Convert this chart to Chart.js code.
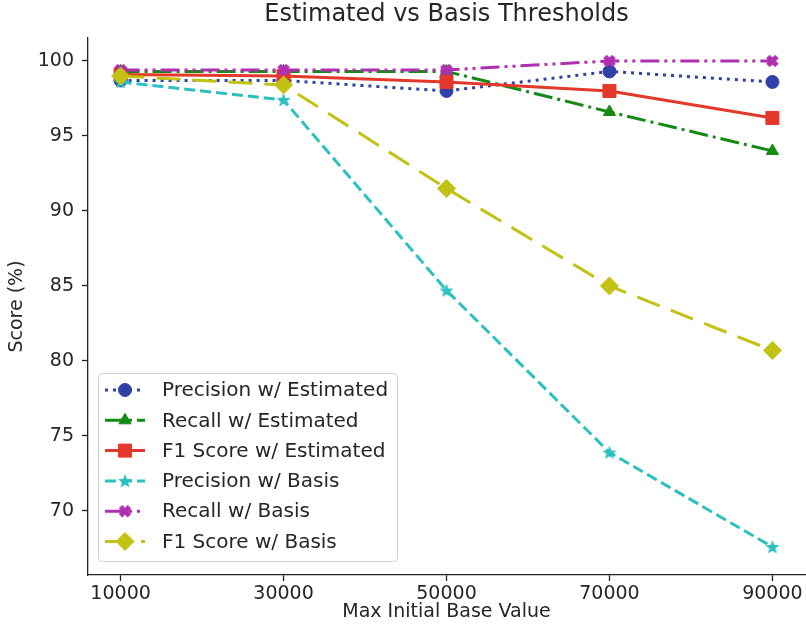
<!DOCTYPE html>
<html>
<head>
<meta charset="utf-8">
<script src="https://cdn.jsdelivr.net/npm/chart.js@4"></script>
<style>
  html, body { margin: 0; padding: 0; background: #fff; }
  #wrap { width: 806px; height: 625px; }
</style>
</head>
<body>
<div id="wrap"><canvas id="scores" width="806" height="625"></canvas></div>
<script>
// data
const xValues = [10000, 30000, 50000, 70000, 90000];
const yTicks = [70, 75, 80, 85, 90, 95, 100];

const precisionEst = [98.7, 98.7, 98.0, 99.3, 98.6];
const recallEst = [99.3, 99.3, 99.3, 96.6, 94.0];
const f1Est = [99.1, 99.0, 98.6, 98.0, 96.2];
const precisionBasis = [98.6, 97.4, 84.7, 73.9, 67.6];
const recallBasis = [99.4, 99.4, 99.4, 100.0, 100.0];
const f1Basis = [99.0, 98.4, 91.5, 85.0, 80.7];

const FONT = "'DejaVu Sans', sans-serif";
const TXT = '#262626';

// filled markers that chart.js does not have
function markerCanvas(draw, size) {
  const c = document.createElement('canvas');
  c.width = size; c.height = size;
  draw(c.getContext('2d'), size / 2);
  return c;
}
function starMarker(color) {
  return markerCanvas((g, m) => {
    const ro = 7.5, ri = 3.2;
    g.beginPath();
    for (let i = 0; i < 10; i++) {
      const r = i % 2 ? ri : ro;
      const a = -Math.PI / 2 + i * Math.PI / 5;
      g.lineTo(m + r * Math.cos(a), m + 0.5 + r * Math.sin(a));
    }
    g.closePath();
    g.fillStyle = color; g.fill();
  }, 18);
}
function xMarker(color) {
  return markerCanvas((g, m) => {
    g.strokeStyle = color; g.lineWidth = 5; g.lineCap = 'butt';
    g.beginPath();
    g.moveTo(m - 4.5, m - 4.5); g.lineTo(m + 4.5, m + 4.5);
    g.moveTo(m + 4.5, m - 4.5); g.lineTo(m - 4.5, m + 4.5);
    g.stroke();
  }, 18);
}

const series = [
  { label: 'Precision w/ Estimated', data: precisionEst, color: '#3040a6', dash: [3, 5], style: 'circle', r: 6.5 },
  { label: 'Recall w/ Estimated', data: recallEst, color: '#158a15', dash: [19, 5, 3, 5], style: 'triangle', r: 7 },
  { label: 'F1 Score w/ Estimated', data: f1Est, color: '#e3382a', dash: [], style: 'rect', r: 9.2 },
  { label: 'Precision w/ Basis', data: precisionBasis, color: '#2cc0c0', dash: [11, 5], style: 'star', r: 8 },
  { label: 'Recall w/ Basis', data: recallBasis, color: '#b02eb0', dash: [19, 5, 3, 5, 3, 5], style: 'x', r: 8 },
  { label: 'F1 Score w/ Basis', data: f1Basis, color: '#c2c214', dash: [24, 12], style: 'rectRot', r: 9 }
];
series.forEach(s => {
  if (s.style === 'star') s.pointStyle = starMarker(s.color);
  else if (s.style === 'x') s.pointStyle = xMarker(s.color);
  else s.pointStyle = s.style;
});

const datasets = series.map((s, i) => ({
  label: s.label,
  data: xValues.map((x, j) => ({ x, y: s.data[j] })),
  borderColor: s.color,
  backgroundColor: s.color,
  borderWidth: 3,
  borderDash: s.dash,
  pointStyle: s.pointStyle,
  pointRadius: s.r,
  pointBackgroundColor: s.color,
  pointBorderColor: s.color,
  pointBorderWidth: 1,
  tension: 0,
  clip: false,
  order: series.length - i
}));

const decorations = {
  id: 'decorations',
  afterDraw(chart) {
    const g = chart.ctx;
    const area = chart.chartArea;
    g.save();
    // title
    g.fillStyle = TXT;
    g.font = '24px ' + FONT;
    g.textAlign = 'center';
    g.textBaseline = 'middle';
    g.fillText('Estimated vs Basis Thresholds', (area.left + area.right) / 2, 15);

    // legend box
    const bx = 98, by = 373, bw = 299, bh = 188;
    g.beginPath();
    g.roundRect(bx + 0.5, by + 0.5, bw, bh, 4);
    g.fillStyle = 'rgba(255,255,255,0.8)';
    g.fill();
    g.strokeStyle = '#d0d0d0';
    g.lineWidth = 1;
    g.stroke();

    series.forEach((s, i) => {
      const y = 390 + i * 30.3;
      g.strokeStyle = s.color;
      g.lineWidth = 3;
      g.setLineDash(s.dash);
      g.beginPath();
      g.moveTo(105, y); g.lineTo(145, y);
      g.stroke();
      g.setLineDash([]);
      g.fillStyle = s.color;
      g.lineWidth = 1;
      Chart.helpers.drawPoint(g, { pointStyle: s.pointStyle, radius: s.r, rotation: 0, borderWidth: 1 }, 125, y);
      g.fillStyle = TXT;
      g.font = '20px ' + FONT;
      g.textAlign = 'left';
      g.textBaseline = 'middle';
      g.fillText(s.label, 162, y + 1);
    });
    g.restore();
  }
};

new Chart(document.getElementById('scores'), {
  type: 'line',
  data: { datasets },
  plugins: [decorations],
  options: {
    responsive: false,
    animation: false,
    layout: { autoPadding: false, padding: { top: 38, right: 1, left: 0, bottom: 0 } },
    plugins: { legend: { display: false }, tooltip: { enabled: false } },
    scales: {
      x: {
        type: 'linear',
        min: 6000,
        max: 94000,
        afterBuildTicks: sc => { sc.ticks = xValues.map(v => ({ value: v })); },
        afterFit: sc => { sc.height = 50; sc.paddingLeft = 0; sc.paddingRight = 0; },
        grid: { display: true, drawOnChartArea: false, drawTicks: true, tickLength: 6, color: '#222', tickWidth: 1.3 },
        border: { display: true, color: '#222', width: 1.3 },
        ticks: {
          color: TXT, font: { family: FONT, size: 19 }, padding: 2,
          maxRotation: 0, autoSkip: false,
          callback: v => String(v)
        },
        title: { display: true, text: 'Max Initial Base Value', color: TXT, font: { family: FONT, size: 19 }, padding: { top: 0, bottom: 2 } }
      },
      y: {
        min: 65.73,
        max: 101.53,
        afterBuildTicks: sc => { sc.ticks = yTicks.map(v => ({ value: v })); },
        afterFit: sc => { sc.width = 88; },
        grid: { display: true, drawOnChartArea: false, drawTicks: true, tickLength: 6, color: '#222', tickWidth: 1.3 },
        border: { display: true, color: '#222', width: 1.3 },
        ticks: { color: TXT, font: { family: FONT, size: 19 }, padding: 8, callback: v => String(v) },
        title: { display: true, text: 'Score (%)', color: TXT, font: { family: FONT, size: 19 }, padding: { top: 6, bottom: 0 } }
      }
    }
  }
});
</script>
</body>
</html>
